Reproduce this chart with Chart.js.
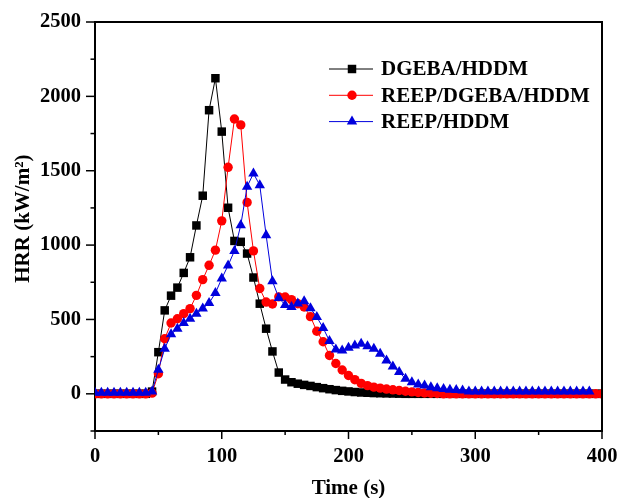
<!DOCTYPE html>
<html>
<head>
<meta charset="utf-8">
<script src="https://cdn.jsdelivr.net/npm/chart.js@4.4.0/dist/chart.umd.min.js"></script>
<style>
body{margin:0;background:#fff}
</style>
</head>
<body>
<canvas id="grafica_hrr" width="619" height="498"></canvas>
<script>
// tiempo (s)
const tiempo = [0,5,10,15,20,25,30,35,40,45,50,55,60,65,70,75,80,85,90,95,100,105,110,115,120,125,130,135,140,145,150,155,160,165,170,175,180,185,190,195,200,205,210,215,220,225,230,235,240,245,250,255,260,265,270,275,280,285,290,295,300,305,310,315,320,325,330,335,340,345,350,355,360,365,370,375,380,385,390,395,400];

// HRR (kW/m2)
const hrr_dgeba = [0,0,0,0,0,0,0,0,0,15,280,561,660,714,813,918,1132,1332,1907,2122,1763,1251,1028,1022,943,782,606,438,285,143,96,78,68,60,53,45,38,31,25,20,16,12,9,7,5,4,3,2,1,0,0,0,0,0,0,0,0,0,0,0,0,0,0,0,0,0,0,0,0,0,0,0,0,0,0,0,0,0,0,0,0];
const hrr_reep_dgeba = [0,0,0,0,0,0,0,0,0,5,135,370,476,505,539,573,662,768,864,966,1163,1523,1848,1808,1287,961,708,617,604,652,651,633,606,584,519,421,350,258,204,160,123,95,70,55,45,38,32,27,22,17,13,9,6,4,2,0,0,0,0,0,0,0,0,0,0,0,0,0,0,0,0,0,0,0,0,0,0,0,0,0,0];
const hrr_reep = [8,8,8,8,8,8,8,8,8,15,162,303,400,438,476,505,539,573,610,678,775,863,961,1134,1392,1482,1403,1067,757,645,597,584,608,622,575,516,443,355,298,292,310,325,337,319,303,270,224,184,146,101,78,63,56,45,38,32,28,25,22,16,16,16,16,16,16,16,16,16,16,16,16,16,16,16,16,16,16,16,16];

const nombres = ['DGEBA/HDDM', 'REEP/DGEBA/HDDM', 'REEP/HDDM'];

const fuente = '"Liberation Serif", "Times New Roman", serif';

function puntos(valores) {
    return tiempo.map((t, i) => ({x: t, y: valores[i]}));
}

// marco superior/derecho y marcas de los ejes
const marco = {
    id: 'marco',
    afterDraw(chart) {
        const ctx = chart.ctx;
        const a = chart.chartArea;
        const sx = chart.scales.x;
        const sy = chart.scales.y;
        ctx.save();
        ctx.strokeStyle = '#000';
        ctx.lineWidth = 2;
        ctx.beginPath();
        ctx.moveTo(a.left, a.top);
        ctx.lineTo(a.right, a.top);
        ctx.lineTo(a.right, a.bottom);
        ctx.stroke();

        ctx.lineWidth = 1.5;
        sx.ticks.forEach(t => {
            const px = sx.getPixelForValue(t.value);
            const largo = t.value % 100 === 0 ? 8 : 4;
            ctx.beginPath();
            ctx.moveTo(px, a.bottom);
            ctx.lineTo(px, a.bottom + largo);
            ctx.stroke();
        });
        sy.ticks.forEach(t => {
            const py = sy.getPixelForValue(t.value);
            const largo = t.value % 500 === 0 ? 9 : 4.5;
            ctx.beginPath();
            ctx.moveTo(a.left, py);
            ctx.lineTo(a.left - largo, py);
            ctx.stroke();
        });
        ctx.restore();
    }
};

// leyenda dentro del area
const leyenda = {
    id: 'leyenda',
    afterDraw(chart) {
        const ctx = chart.ctx;
        ctx.save();
        chart.data.datasets.forEach((ds, i) => {
            const y = 69 + i * 26.3;
            ctx.strokeStyle = ds.borderColor;
            ctx.lineWidth = 1;
            ctx.beginPath();
            ctx.moveTo(329, y);
            ctx.lineTo(373, y);
            ctx.stroke();
            ctx.fillStyle = ds.pointBackgroundColor;
            Chart.helpers.drawPoint(ctx, {pointStyle: ds.pointStyle, radius: ds.pointRadius, borderWidth: 0, rotation: 0}, 352, y);
            ctx.fillStyle = '#000';
            ctx.font = 'bold 21px ' + fuente;
            ctx.textBaseline = 'middle';
            ctx.textAlign = 'left';
            ctx.fillText(ds.label, 381, y + 1);
        });
        ctx.restore();
    }
};

const fuente_ticks = {family: fuente, size: 20.5, weight: 'bold'};

new Chart(document.getElementById('grafica_hrr'), {
    type: 'line',
    data: {
        datasets: [{
            label: nombres[0],
            data: puntos(hrr_dgeba),
            borderColor: '#000000',
            pointBackgroundColor: '#000000',
            pointStyle: 'rect',
            pointRadius: 6,
            order: 3
        }, {
            label: nombres[1],
            data: puntos(hrr_reep_dgeba),
            borderColor: '#ff0000',
            pointBackgroundColor: '#ff0000',
            pointStyle: 'circle',
            pointRadius: 4.7,
            order: 2
        }, {
            label: nombres[2],
            data: puntos(hrr_reep),
            borderColor: '#0000dd',
            pointBackgroundColor: '#0000dd',
            pointStyle: 'triangle',
            pointRadius: 6,
            order: 1
        }]
    },
    options: {
        responsive: false,
        animation: false,
        elements: {
            line: {borderWidth: 1, tension: 0},
            point: {borderWidth: 0}
        },
        layout: {padding: {top: 22, right: 17, left: 0, bottom: 0}},
        plugins: {
            legend: {display: false},
            tooltip: {enabled: false}
        },
        scales: {
            x: {
                type: 'linear',
                min: 0,
                max: 400,
                afterFit: s => { s.height = 67; s.paddingLeft = 0; s.paddingRight = 0; },
                grid: {display: false, drawTicks: false},
                border: {display: true, color: '#000', width: 2},
                ticks: {
                    stepSize: 50,
                    autoSkip: false,
                    maxRotation: 0,
                    padding: 13,
                    color: '#000',
                    font: fuente_ticks,
                    callback: v => v % 100 === 0 ? v : ''
                },
                title: {
                    display: true,
                    text: 'Time (s)',
                    color: '#000',
                    font: {family: fuente, size: 21, weight: 'bold', lineHeight: 0.85},
                    padding: 0
                }
            },
            y: {
                min: -250,
                max: 2500,
                afterFit: s => { s.width = 95; s.paddingTop = 0; s.paddingBottom = 0; },
                grid: {display: false, drawTicks: false},
                border: {display: true, color: '#000', width: 2},
                ticks: {
                    stepSize: 250,
                    autoSkip: false,
                    padding: 14,
                    color: '#000',
                    font: fuente_ticks,
                    callback: v => v % 500 === 0 ? v : ''
                },
                title: {
                    display: true,
                    text: '   HRR (kW/m\u00B2)',
                    color: '#000',
                    font: {family: fuente, size: 21, weight: 'bold'},
                    padding: {top: 11, bottom: 0}
                }
            }
        }
    },
    plugins: [marco, leyenda]
});
</script>
</body>
</html>
